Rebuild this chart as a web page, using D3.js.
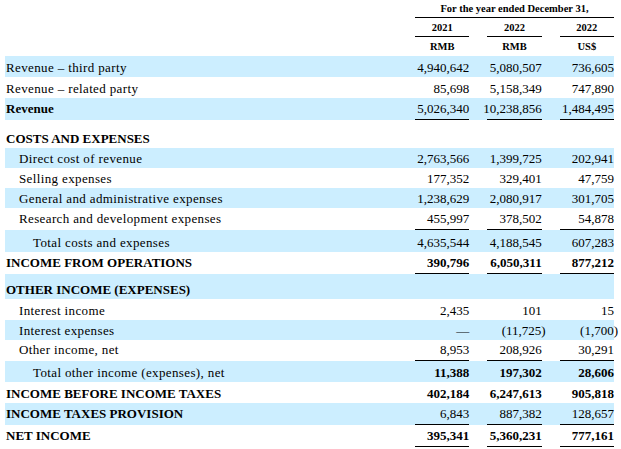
<!DOCTYPE html>
<html>
<head>
<meta charset="utf-8">
<script src="https://cdn.jsdelivr.net/npm/d3@7"></script>
<style>
  body { margin: 0; background: #fff; }
  text { font-family: "Liberation Serif", "Times New Roman", serif; fill: #000; }
</style>
</head>
<body>
<div id="chart"></div>
<script>
// table content
const columnKeys = ["rmb2021", "rmb2022", "usd2022"];
const yearLabels = ["2021", "2022", "2022"];
const currencyLabels = ["RMB", "RMB", "US$"];
const headerTitle = "For the year ended December 31,";

const rowLabels = [
  "Revenue \u2013 third party",
  "Revenue \u2013 related party",
  "Revenue",
  "COSTS AND EXPENSES",
  "Direct cost of revenue",
  "Selling expenses",
  "General and administrative expenses",
  "Research and development expenses",
  "Total costs and expenses",
  "INCOME FROM OPERATIONS",
  "OTHER INCOME (EXPENSES)",
  "Interest income",
  "Interest expenses",
  "Other income, net",
  "Total other income (expenses), net",
  "INCOME BEFORE INCOME TAXES",
  "INCOME TAXES PROVISION",
  "NET INCOME"
];
// indent level of each label
const rowLevels = [0, 0, 0, 0, 1, 1, 1, 1, 2, 0, 0, 1, 1, 1, 2, 0, 0, 0];
// label in bold
const boldLabels = [false, false, true, true, false, false, false, false, false, true, true, false, false, false, false, true, true, true];
// figures in bold
const boldValues = [false, false, false, false, false, false, false, false, false, true, false, false, false, false, true, true, false, true];
// rule drawn under the figures
const ruledRows = [false, false, true, false, false, false, false, true, false, true, false, false, false, true, false, false, true, true];

const values2021 = [4940642, 85698, 5026340, null, 2763566, 177352, 1238629, 455997, 4635544, 390796, null, 2435, 0, 8953, 11388, 402184, 6843, 395341];
const values2022 = [5080507, 5158349, 10238856, null, 1399725, 329401, 2080917, 378502, 4188545, 6050311, null, 101, -11725, 208926, 197302, 6247613, 887382, 5360231];
const valuesUsd = [736605, 747890, 1484495, null, 202941, 47759, 301705, 54878, 607283, 877212, null, 15, -1700, 30291, 28606, 905818, 128657, 777161];

// layout
const width = 621, height = 449;
const tableLeft = 5, tableRight = 614, tableTop = 56;
const rowHeights = [21, 21, 22, 28, 20, 20, 20, 22, 22, 22, 25, 21, 20, 21, 21, 21, 22, 22];
const indent = [6, 19, 33];

const rows = rowLabels.map((label, i) => ({
  label,
  level: rowLevels[i],
  boldLabel: boldLabels[i],
  boldValue: boldValues[i],
  ruled: ruledRows[i],
  values: [values2021[i], values2022[i], valuesUsd[i]],
  index: i
}));

// row index -> top edge
const offsets = [0, ...d3.cumsum(rowHeights)];
const rowY = d3.scaleOrdinal()
  .domain(d3.range(rows.length + 1))
  .range(offsets.map(o => tableTop + o));
const rowTop = i => rowY(i);
const rowBottom = i => rowY(i + 1);

const x = d3.scaleBand()
  .domain(columnKeys)
  .range([415, tableRight])
  .paddingInner(0.249)
  .paddingOuter(0);

const fmt = d3.format(",");
function formatValue(v) {
  if (v === null) return "";
  if (v === 0) return "\u2014";
  if (v < 0) return "(" + fmt(-v) + ")";
  return fmt(v);
}

const svg = d3.select("#chart")
  .append("svg")
  .attr("width", width)
  .attr("height", height);

// shaded bands
svg.selectAll(".band")
  .data(rows.filter(r => r.index % 2 === 0))
  .join("rect")
  .attr("class", "band")
  .attr("x", tableLeft)
  .attr("y", d => rowTop(d.index))
  .attr("width", tableRight - tableLeft)
  .attr("height", d => rowHeights[d.index])
  .attr("fill", "#cceeff");

// header
const header = svg.append("g");
header.append("text")
  .attr("x", (x.range()[0] + x.range()[1]) / 2)
  .attr("y", 12)
  .attr("text-anchor", "middle")
  .attr("font-weight", "bold")
  .attr("font-size", 10.5)
  .text(headerTitle);

header.append("line")
  .attr("x1", x.range()[0]).attr("x2", x.range()[1])
  .attr("y1", 17.5).attr("y2", 17.5)
  .attr("stroke", "#000")
  .attr("shape-rendering", "crispEdges");

header.selectAll(".year")
  .data(columnKeys)
  .join("text")
  .attr("class", "year")
  .attr("x", d => x(d) + x.bandwidth() / 2)
  .attr("y", 31)
  .attr("text-anchor", "middle")
  .attr("font-weight", "bold")
  .attr("font-size", 10.5)
  .text((d, i) => yearLabels[i]);

header.selectAll(".year-rule")
  .data(columnKeys)
  .join("line")
  .attr("class", "year-rule")
  .attr("x1", d => x(d)).attr("x2", d => x(d) + x.bandwidth())
  .attr("y1", 36.5).attr("y2", 36.5)
  .attr("stroke", "#000")
  .attr("shape-rendering", "crispEdges");

header.selectAll(".currency")
  .data(columnKeys)
  .join("text")
  .attr("class", "currency")
  .attr("x", d => x(d) + x.bandwidth() / 2)
  .attr("y", 50)
  .attr("text-anchor", "middle")
  .attr("font-weight", "bold")
  .attr("font-size", 10.5)
  .text((d, i) => currencyLabels[i]);

// body rows
const baseline = d => rowBottom(d.index) - (d.ruled ? 7 : 5.5);

const rowG = svg.selectAll(".row")
  .data(rows)
  .join("g")
  .attr("class", "row");

rowG.append("text")
  .attr("x", d => indent[d.level])
  .attr("y", baseline)
  .attr("font-size", 13)
  .attr("font-weight", d => d.boldLabel ? "bold" : "normal")
  .attr("letter-spacing", d => d.boldLabel ? 0 : 0.37)
  .text(d => d.label);

rowG.selectAll(".value")
  .data(d => d.values.map((v, j) => ({ v, key: columnKeys[j], row: d })))
  .join("text")
  .attr("class", "value")
  .attr("x", d => x(d.key) + x.bandwidth() + (d.v !== null && d.v < 0 ? 4 : 0))
  .attr("y", d => baseline(d.row))
  .attr("text-anchor", "end")
  .attr("font-size", 13)
  .attr("font-weight", d => d.row.boldValue ? "bold" : "normal")
  .text(d => formatValue(d.v));

rowG.filter(d => d.ruled)
  .selectAll(".rule")
  .data(d => columnKeys.map(key => ({ key, row: d })))
  .join("line")
  .attr("class", "rule")
  .attr("x1", d => x(d.key)).attr("x2", d => x(d.key) + x.bandwidth())
  .attr("y1", d => Math.round(rowBottom(d.row.index)) - 0.5)
  .attr("y2", d => Math.round(rowBottom(d.row.index)) - 0.5)
  .attr("stroke", "#000")
  .attr("shape-rendering", "crispEdges");
</script>
</body>
</html>
